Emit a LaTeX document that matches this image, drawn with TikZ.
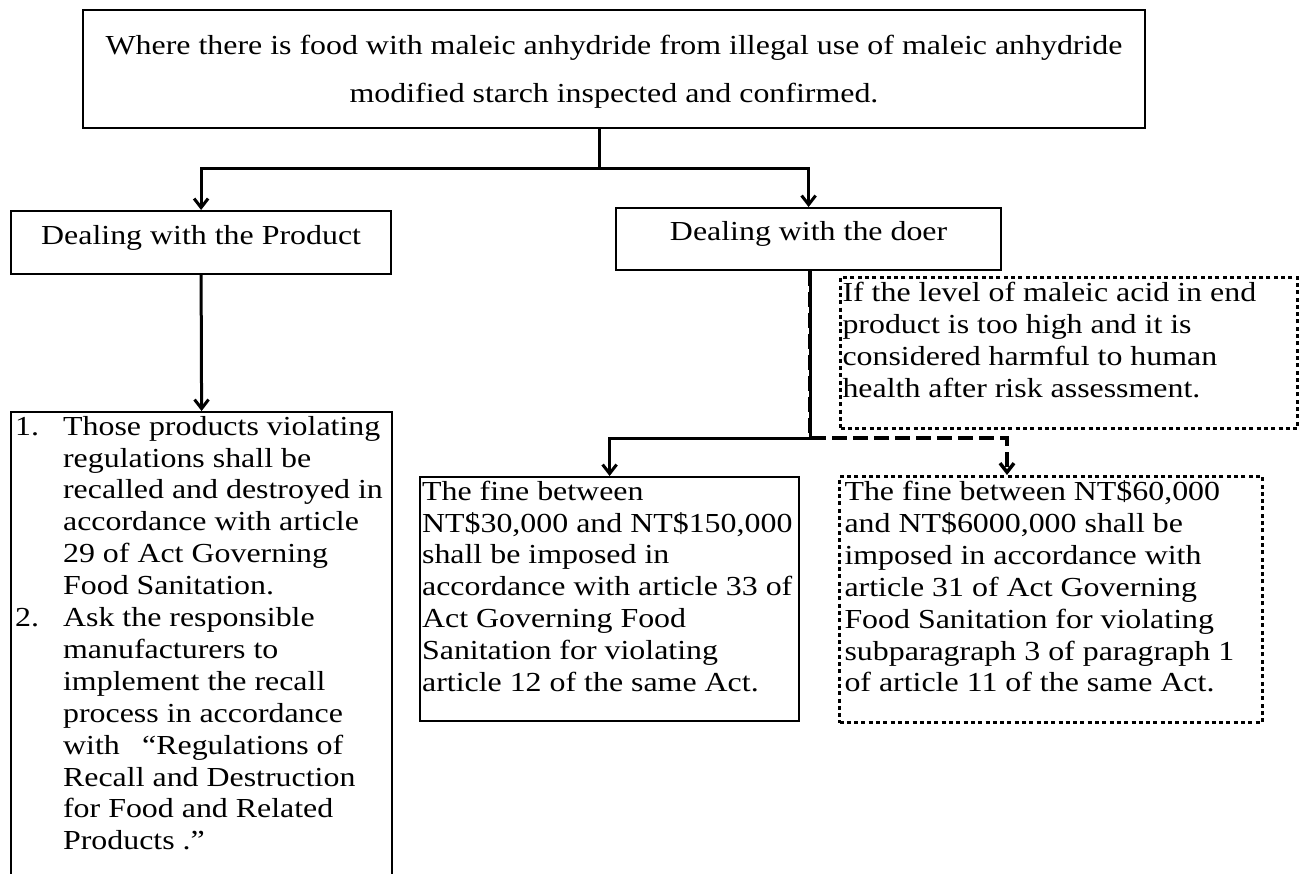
\documentclass[tikz,border=0pt]{standalone}
\usepackage{fontspec}
\setmainfont{Liberation Serif}
\usepackage{graphicx}
\usetikzlibrary{arrows.meta}

\newcommand{\stretched}[1]{\scalebox{1.16}[1]{#1}}
\newcommand{\leftblock}[2]{\makebox[#1][l]{\stretched{\begin{tabular}[t]{@{}l@{}}#2\end{tabular}}}}

\begin{document}
\begin{tikzpicture}[x=1pt, y=1pt,
	every node/.style={font=\fontsize{27.5pt}{31.9pt}\selectfont, inner sep=0pt},
	box/.style={draw, line width=2.2pt, anchor=north west},
	dotbox/.style={draw, line width=3pt, dash pattern=on 4pt off 3.3pt, anchor=north west},
	link/.style={line width=3pt},
	arrowlink/.style={link, -{Straight Barb[length=9pt,width=14pt]}}]

		\clip (0,0) rectangle (1304,-873);
		\fill[white] (0,0) rectangle (1304,-873);

		\node[box, line width=2.5pt, minimum width=1062, minimum height=118, anchor=center] (top) at (614,-69)
			{\renewcommand{\arraystretch}{1.5}\stretched{\begin{tabular}{@{}c@{}}Where there is food with maleic anhydride from illegal use of maleic anhydride\\modified starch inspected and confirmed.\end{tabular}}};

		\node[box, minimum width=380, text height=33pt, text depth=30pt] (product) at (10,-210) {\stretched{Dealing with the Product}};
		\node[box, minimum width=385, text height=32pt, text depth=30pt] (doer) at (615,-207) {\stretched{Dealing with the doer}};

		% the list box runs on past the lower edge
		\node[box, inner xsep=4pt, text height=23pt, text depth=466pt] (recall) at (10,-411)
			{\makebox[373pt][l]{\stretched{\begin{tabular}[t]{@{}p{41.4pt}@{}l@{}}
			1.&Those products violating\\ &regulations shall be\\ &recalled and destroyed in\\ &accordance with article\\ &29 of Act Governing\\ &Food Sanitation.\\
			2.&Ask the responsible\\ &manufacturers to\\ &implement the recall\\ &process in accordance\\ &with\hspace{0.45em} “Regulations of\\ &Recall and Destruction\\ &for Food and Related\\ &Products .”
			\end{tabular}}}};

		\node[box, inner xsep=2pt, text height=23pt, text depth=221pt] (fineA) at (419,-476)
			{\leftblock{375pt}{The fine between\\NT\$30,000 and NT\$150,000\\shall be imposed in\\accordance with article 33 of\\Act Governing Food\\Sanitation for violating\\article 12 of the same Act.}};
		\node[dotbox, inner xsep=2pt, text height=24pt, text depth=127pt] (risk) at (839,-276)
			{\leftblock{453pt}{If the level of maleic acid in end\\product is too high and it is\\considered harmful to human\\health after risk assessment.}};
		\node[dotbox, inner xsep=5pt, text height=24pt, text depth=222pt] (fineB) at (838,-475)
			{\leftblock{413pt}{The fine between NT\$60,000\\and NT\$6000,000 shall be\\imposed in accordance with\\article 31 of Act Governing\\Food Sanitation for violating\\subparagraph 3 of paragraph 1\\of article 11 of the same Act.}};

		\coordinate (split) at (599,-168);
		\coordinate (fork) at (810,-438);
		\coordinate (drop) at (1007,-438);

		\draw[link] (top.south -| split) -- (split);
		\draw[arrowlink] (split) -| (product);
		\draw[arrowlink] (split) -| (doer);
		\draw[arrowlink] (product.south) -- (recall.north);

		% doer: dashed branch under the solid one
		\draw[arrowlink, line width=3.5pt, dash pattern=on 15pt off 6pt] (doer.south -| fork) -- (fork) -- (drop) -- (drop |- fineB.north);
		\draw[arrowlink] (doer.south -| fork) -- (fork) -| (fineA);
	\end{tikzpicture}
\end{document}
